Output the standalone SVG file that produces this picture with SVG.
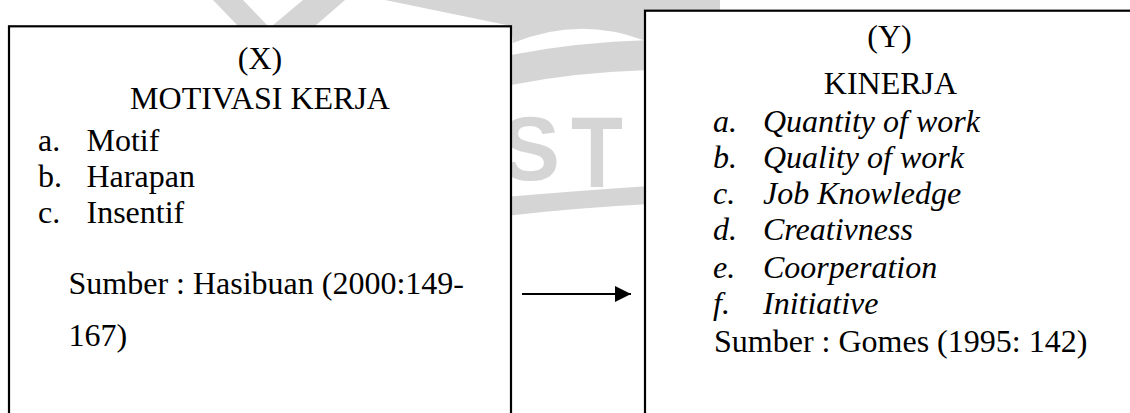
<svg xmlns="http://www.w3.org/2000/svg" width="1130" height="413" viewBox="0 0 1130 413">
<style>
.t{font-family:"Liberation Serif","Times New Roman",serif;font-size:32px;fill:#000}
.c{text-anchor:middle}
.i{font-style:italic}
.box{fill:#fff;stroke:#000;stroke-width:2.2}
.conn{stroke:#000;stroke-width:2;fill:none}
.wm{fill:#d5d5d5}
.wmt{font-family:"Liberation Sans",Arial,sans-serif;font-weight:bold;fill:#d5d5d5}
</style>
<defs>
<marker id="ah" markerWidth="16" markerHeight="16" refX="16" refY="8" orient="auto" markerUnits="userSpaceOnUse"><path d="M0,0 L16,8 L0,16 Z" fill="#000"/></marker>
</defs>
<rect width="1130" height="413" fill="#fff"/>
<g id="watermark">
<path class="wm" d="M213,0 L243,0 L268,26 L238,26 Z"/>
<path class="wm" d="M272,26 L303,0 L345,0 L315,26 Z"/>
<path class="wm" d="M385,0 H720 V60 L643,40 Q578,16 513,43 L511,26 Z"/>
<path class="wm" d="M505,56 Q575,42 650,40 L650,70 Q575,72 505,86 Z"/>
<path class="wm" d="M505,197 Q575,191 650,186 L650,204 Q575,208 505,216 Z"/>
<text class="wmt" x="500" y="180" font-size="90">S</text>
<text class="wmt" transform="translate(571,187) scale(0.85,1)" x="0" y="0" font-size="100">T</text>
</g>
<g id="nodeX">
<rect class="box" x="9" y="26.3" width="502" height="400"/>
<text class="t c" x="260" y="69">(X)</text>
<text class="t c" x="260" y="109">MOTIVASI KERJA</text>
<text class="t" x="38" y="151">a.</text><text class="t" x="86.5" y="151">Motif</text>
<text class="t" x="38" y="187">b.</text><text class="t" x="86.5" y="187">Harapan</text>
<text class="t" x="38" y="223">c.</text><text class="t" x="86.5" y="223">Insentif</text>
<text class="t" x="68.5" y="294">Sumber : Hasibuan (2000:149-</text>
<text class="t" x="68.5" y="346">167)</text>
</g>
<g id="nodeY">
<rect class="box" x="645" y="10.7" width="500" height="420"/>
<text class="t c" x="889.5" y="47">(Y)</text>
<text class="t c" x="890.5" y="94">KINERJA</text>
<text class="t i" x="713" y="131.5">a.</text><text class="t i" x="763" y="131.5">Quantity of work</text>
<text class="t i" x="713" y="168">b.</text><text class="t i" x="763" y="168">Quality of work</text>
<text class="t i" x="713" y="203.5">c.</text><text class="t i" x="763" y="203.5">Job Knowledge</text>
<text class="t i" x="713" y="240">d.</text><text class="t i" x="763" y="240">Creativness</text>
<text class="t i" x="713" y="277.5">e.</text><text class="t i" x="763" y="277.5">Coorperation</text>
<text class="t i" x="713" y="314">f.</text><text class="t i" x="763" y="314">Initiative</text>
<text class="t" x="714" y="352">Sumber : Gomes (1995: 142)</text>
</g>
<g id="connectors">
<line class="conn" x1="522" y1="294" x2="631" y2="294" marker-end="url(#ah)"/>
</g>
</svg>
